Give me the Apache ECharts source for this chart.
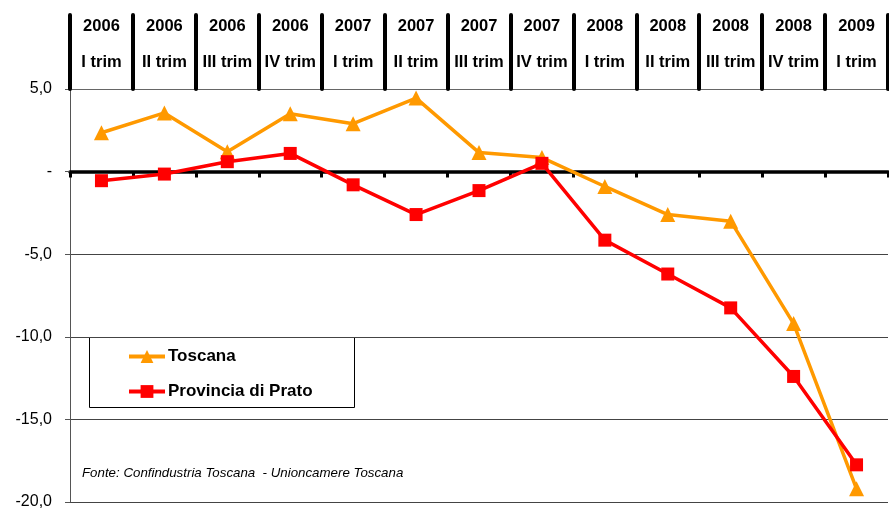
<!DOCTYPE html>
<html>
<head>
<meta charset="utf-8">
<script src="https://cdn.jsdelivr.net/npm/echarts@6/dist/echarts.min.js"></script>
<style>
  html, body { margin: 0; padding: 0; background: #fff; }
  #chart { width: 889px; height: 510px; }
</style>
</head>
<body>
<div id="chart"></div>
<script>
const years = ['2006', '2006', '2006', '2006', '2007', '2007', '2007', '2007', '2008', '2008', '2008', '2008', '2009'];
const quarters = ['I trim', 'II trim', 'III trim', 'IV trim', 'I trim', 'II trim', 'III trim', 'IV trim', 'I trim', 'II trim', 'III trim', 'IV trim', 'I trim'];
const toscana = [2.35, 3.55, 1.2, 3.5, 2.9, 4.45, 1.15, 0.85, -0.9, -2.6, -3.0, -9.2, -19.2];
const prato = [-0.55, -0.15, 0.6, 1.1, -0.8, -2.6, -1.15, 0.5, -4.15, -6.2, -8.25, -12.4, -17.75];

const categories = years.map((y, i) => y + '\n' + quarters[i]);

const chart = echarts.init(document.getElementById('chart'));

const option = {
    animation: false,
    textStyle: { fontFamily: 'Liberation Sans, Arial, sans-serif' },
    grid: { left: 70, right: 1, top: 89, bottom: 7 },
    legend: {
        left: 122,
        top: 343,
        orient: 'vertical',
        itemWidth: 36,
        itemHeight: 16,
        itemGap: 18,
        lineStyle: { width: 4 },
        textStyle: { fontSize: 17, fontWeight: 'bold', color: '#000', padding: [0, 0, 0, -2] },
        data: ['Toscana', 'Provincia di Prato']
    },
    xAxis: [
        {
            type: 'category',
            data: categories,
            boundaryGap: true,
            axisLine: { onZero: true, lineStyle: { color: '#000', width: 3.5 } },
            axisTick: { show: true, length: 6, lineStyle: { color: '#000', width: 3 } },
            axisLabel: { show: false }
        },
        {
            type: 'category',
            position: 'top',
            data: categories,
            boundaryGap: true,
            axisLine: { show: true, lineStyle: { color: '#666', width: 1 } },
            axisTick: { show: true, length: 74, lineStyle: { color: '#000', width: 4, cap: 'round' } },
            axisLabel: {
                interval: 0,
                margin: 9,
                fontSize: 16.5,
                fontWeight: 'bold',
                lineHeight: 36,
                color: '#000'
            }
        }
    ],
    yAxis: {
        type: 'value',
        min: -20,
        max: 5,
        interval: 5,
        axisLine: { show: true, lineStyle: { color: '#555', width: 1 } },
        axisTick: { show: true, length: 5, lineStyle: { color: '#555' } },
        splitLine: { show: true, lineStyle: { color: '#444', width: 1 } },
        axisLabel: {
            margin: 18,
            fontSize: 16,
            color: '#000',
            formatter: v => v === 0 ? '-' : v.toFixed(1).replace('.', ',')
        }
    },
    graphic: [
        {
            type: 'rect',
            shape: { x: 89.5, y: 337.5, width: 265, height: 70 },
            style: { fill: '#fff', stroke: '#000', lineWidth: 1 },
            z: 0
        },
        {
            type: 'text',
            left: 82,
            top: 467,
            style: {
                text: 'Fonte: Confindustria Toscana  - Unioncamere Toscana',
                font: 'italic 13.3px Liberation Sans, Arial, sans-serif',
                fill: '#000'
            }
        }
    ],
    series: [
        {
            name: 'Toscana',
            type: 'line',
            data: toscana,
            symbol: 'triangle',
            symbolSize: 15,
            lineStyle: { color: '#FF9900', width: 3.5 },
            itemStyle: { color: '#FF9900' },
            z: 3
        },
        {
            name: 'Provincia di Prato',
            type: 'line',
            data: prato,
            symbol: 'rect',
            symbolSize: 13,
            lineStyle: { color: '#FF0000', width: 3.5 },
            itemStyle: { color: '#FF0000' },
            z: 4
        }
    ]
};

chart.setOption(option);
</script>
</body>
</html>
